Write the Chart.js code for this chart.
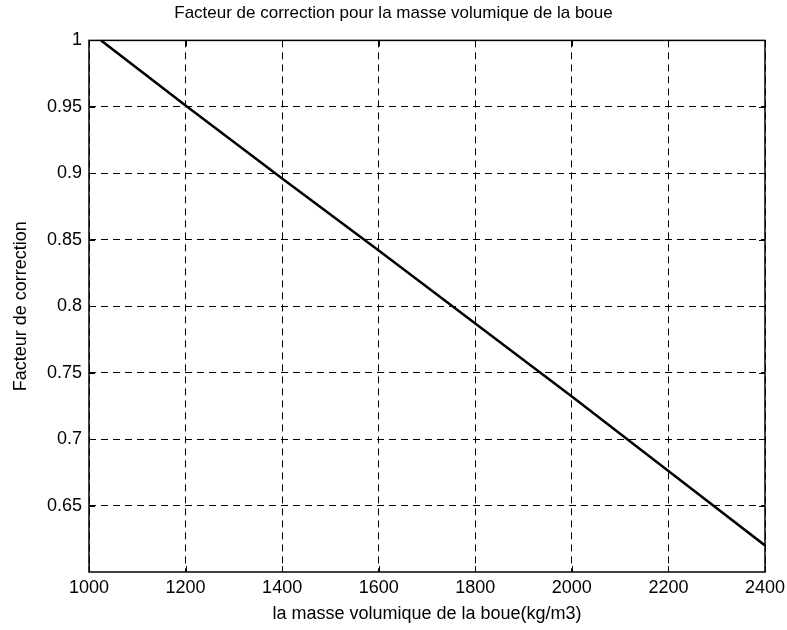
<!DOCTYPE html>
<html>
<head>
<meta charset="utf-8">
<script src="https://cdn.jsdelivr.net/npm/chart.js@4/dist/chart.umd.min.js"></script>
<style>
  html, body { margin: 0; padding: 0; background: #fff; }
  #wrap { width: 787px; height: 630px; }
</style>
</head>
<body>
<div id="wrap"><canvas id="c" width="787" height="630"></canvas></div>
<script>
// Mud density (kg/m3) and the matching correction factor
const densite = [1025, 1200, 1400, 1600, 1800, 2000, 2200, 2400];
const facteur = [1.0, 0.951, 0.896, 0.842, 0.787, 0.732, 0.676, 0.620];

// Axis ticks
const xTicks = [1000, 1200, 1400, 1600, 1800, 2000, 2200, 2400];
const yTicks = [0.65, 0.7, 0.75, 0.8, 0.85, 0.9, 0.95, 1];

const FONT = '"Liberation Sans", Arial, Helvetica, sans-serif';

// Box around the plot plus short inward tick marks on every side
const boxPlugin = {
  id: 'box',
  afterDraw(chart) {
    const { ctx, chartArea: a, scales } = chart;
    ctx.save();
    ctx.strokeStyle = '#000';
    ctx.lineWidth = 1;
    ctx.setLineDash([]);
    const L = 6;
    ctx.beginPath();
    xTicks.forEach(v => {
      const x = Math.round(scales.x.getPixelForValue(v)) + 0.5;
      ctx.moveTo(x, a.bottom); ctx.lineTo(x, a.bottom - L);
      ctx.moveTo(x, a.top); ctx.lineTo(x, a.top + L);
    });
    yTicks.forEach(v => {
      const y = Math.round(scales.y.getPixelForValue(v)) + 0.5;
      ctx.moveTo(a.left, y); ctx.lineTo(a.left + L, y);
      ctx.moveTo(a.right, y); ctx.lineTo(a.right - L, y);
    });
    ctx.stroke();
    ctx.lineWidth = 1.5;
    ctx.strokeRect(a.left, a.top, a.right - a.left, a.bottom - a.top);
    ctx.restore();
  }
};

new Chart(document.getElementById('c'), {
  type: 'line',
  data: {
    datasets: [{
      data: densite.map((x, i) => ({ x, y: facteur[i] })),
      borderColor: '#000',
      borderWidth: 2.5,
      pointRadius: 0,
      tension: 0,
      fill: false
    }]
  },
  options: {
    responsive: false,
    animation: false,
    devicePixelRatio: 1,
    layout: { padding: 0 },
    plugins: {
      legend: { display: false },
      tooltip: { enabled: false },
      title: {
        display: true,
        text: 'Facteur de correction pour la masse volumique de la boue',
        color: '#000',
        font: { family: FONT, size: 17, weight: 'normal' },
        padding: { top: 3, bottom: 17 }
      }
    },
    scales: {
      x: {
        type: 'linear',
        min: 1000,
        max: 2400,
        afterFit(s) { s.height = 58; s.paddingLeft = 0; s.paddingRight = 22; },
        afterBuildTicks(s) { s.ticks = xTicks.map(v => ({ value: v })); },
        ticks: {
          color: '#000',
          padding: 5,
          maxRotation: 0,
          font: { family: FONT, size: 18 },
          callback: v => String(v)
        },
        grid: {
          color: '#000',
          lineWidth: 1,
          drawTicks: false
        },
        border: { display: false, dash: [7, 5] },
        title: {
          display: true,
          text: 'la masse volumique de la boue(kg/m3)',
          color: '#000',
          font: { family: FONT, size: 18 },
          padding: { top: 0, bottom: 5 }
        }
      },
      y: {
        type: 'linear',
        min: 0.6,
        max: 1,
        afterFit(s) { s.width = 89; s.paddingTop = 0; s.paddingBottom = 0; },
        afterBuildTicks(s) { s.ticks = yTicks.map(v => ({ value: v })); },
        ticks: {
          color: '#000',
          padding: 7,
          font: { family: FONT, size: 18 },
          callback: v => String(Math.round(v * 100) / 100)
        },
        grid: {
          color: '#000',
          lineWidth: 1,
          drawTicks: false
        },
        border: { display: false, dash: [7, 5] },
        title: {
          display: true,
          text: 'Facteur de correction',
          color: '#000',
          font: { family: FONT, size: 18 },
          padding: { top: 10, bottom: 0 }
        }
      }
    }
  },
  plugins: [boxPlugin]
});
</script>
</body>
</html>
